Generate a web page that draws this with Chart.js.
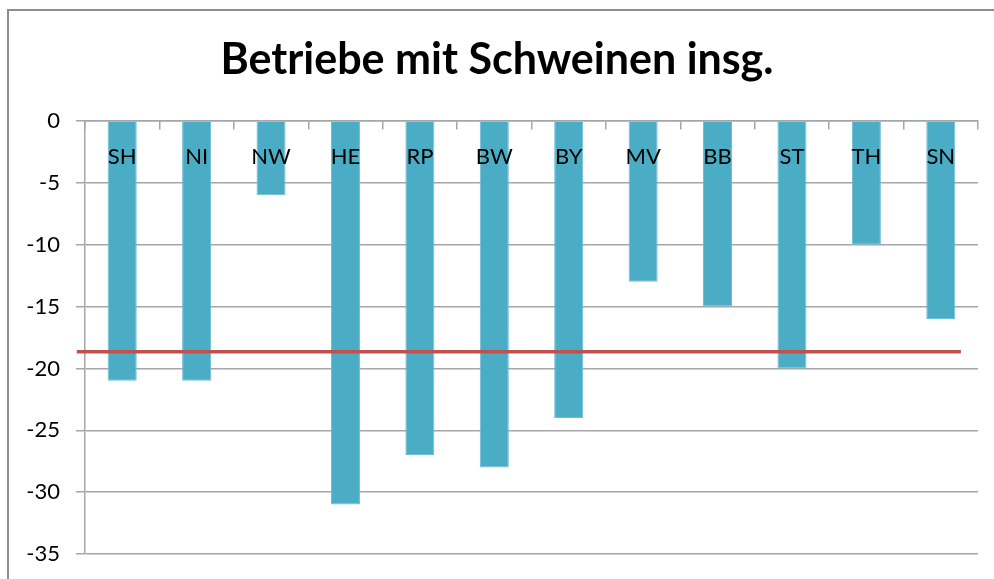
<!DOCTYPE html>
<html>
<head>
<meta charset="utf-8">
<script src="https://cdn.jsdelivr.net/npm/chart.js@4/dist/chart.umd.min.js"></script>
<style>
    html, body { margin: 0; padding: 0; background: #fff; overflow: hidden; }
    #wrap { position: absolute; left: 0; top: 0; width: 994px; height: 579px; }
    /* outer chart frame, only top and left edges are visible */
    #frame { position: absolute; left: 7px; top: 9px; width: 1200px; height: 800px;
             border: 2px solid #8e8e8e; pointer-events: none; }
</style>
</head>
<body>
<div id="wrap"><canvas id="chart" width="994" height="579"></canvas></div>
<div id="frame"></div>
<script>
// Bundesländer and change in holdings with pigs (percent)
const categories = ['SH', 'NI', 'NW', 'HE', 'RP', 'BW', 'BY', 'MV', 'BB', 'ST', 'TH', 'SN'];
const changeValues = [-21, -21, -6, -31, -27, -28, -24, -13, -15, -20, -10, -16];
// average line (value) and its extent along the category axis
const averageValue = -18.65;
const averageSpan = [-0.11, 11.77];
const yTicks = [0, -5, -10, -15, -20, -25, -30, -35];

const GRID = '#a6a6a6';

const ctx = document.getElementById('chart');
new Chart(ctx, {
    type: 'bar',
    data: {
        labels: categories,
        datasets: [
            {
                label: 'Betriebe mit Schweinen',
                data: changeValues,
                backgroundColor: '#4bacc6',
                borderColor: '#6dbcd2',
                borderWidth: 1,
                grouped: false,
                categoryPercentage: 1,
                barPercentage: 0.39,
                xAxisID: 'x',
                order: 2
            },
            {
                type: 'line',
                label: 'Durchschnitt',
                data: averageSpan.map(x => ({ x: x, y: averageValue })),
                borderColor: '#c0504d',
                borderWidth: 3.5,
                pointRadius: 0,
                fill: false,
                clip: false,
                xAxisID: 'xr',
                order: 1
            }
        ]
    },
    options: {
        responsive: false,
        animation: false,
        layout: { padding: { left: 0, right: 0, top: 0, bottom: 25 } },
        plugins: {
            legend: { display: false },
            tooltip: { enabled: false },
            title: {
                display: true,
                text: 'Betriebe mit Schweinen insg.',
                color: '#000',
                font: { family: 'Lato', size: 43, weight: 'bold' },
                padding: { top: 34, bottom: 35.4 }
            }
        },
        scales: {
            y: {
                min: -35,
                max: 0,
                afterBuildTicks: axis => { axis.ticks = yTicks.map(v => ({ value: v })); },
                afterFit: axis => { axis.width = 85; axis.paddingTop = 0; axis.paddingBottom = 0; },
                ticks: {
                    color: '#000',
                    font: { family: 'Lato', size: 22 },
                    padding: 16
                },
                grid: { color: GRID, lineWidth: 1.5, tickLength: 9 },
                border: { display: true, color: GRID, width: 1.5 }
            },
            // empty right margin, keeps the title centred on the whole frame
            yr: {
                position: 'right',
                display: true,
                ticks: { display: false },
                grid: { display: false },
                border: { display: false },
                afterFit: axis => { axis.width = 16; }
            },
            x: {
                position: { y: 0 },
                offset: true,
                ticks: {
                    color: '#000',
                    font: { family: 'Lato', size: 22 },
                    padding: 15,
                    maxRotation: 0,
                    z: 1  // labels sit on top of the bars
                },
                grid: { drawOnChartArea: false, drawTicks: true, tickLength: 8, color: GRID, lineWidth: 1.5, offset: true },
                border: { display: true, color: GRID, width: 1.5 }
            },
            xr: {
                type: 'linear',
                display: false,
                offset: false,
                min: 0,
                max: categories.length
            }
        }
    }
});
</script>
</body>
</html>
